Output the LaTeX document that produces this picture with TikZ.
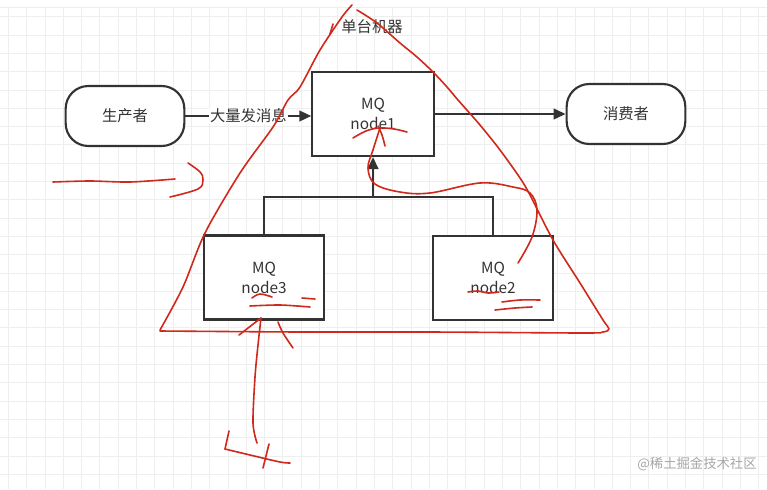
\documentclass[tikz,border=0pt]{standalone}
\usepackage{fontspec}
\setmainfont{Noto Sans CJK SC}
\usetikzlibrary{arrows.meta}
\definecolor{penred}{HTML}{D0281A}
\definecolor{ink}{HTML}{333333}
\definecolor{gridc}{HTML}{EEEEEE}
\begin{document}
\begin{tikzpicture}[x=0.75pt,y=-0.75pt,
  gridline/.style={draw=gridc,line width=0.5pt},
  box/.style={draw=ink,line width=1.6pt,fill=white,align=center,inner sep=0pt,
    text=ink,font=\fontsize{11.5}{15}\selectfont},
  stadium/.style={box,rounded corners=17pt,minimum width=89pt,minimum height=45pt},
  mqbox/.style={box,minimum width=90pt,minimum height=63pt},
  conn/.style={draw=ink,line width=1.6pt,-{Triangle[length=9pt,width=8pt]}},
  link/.style={draw=ink,line width=1.6pt},
  penline/.style={draw=penred,line width=1.2pt,line cap=round,line join=round}]
\useasboundingbox (0,0) rectangle (767,489);
\fill[white] (0,0) rectangle (767,489);
% grid
\foreach \i in {0,...,41} {\draw[gridline] ({8.3+18.3*\i},7) -- ({8.3+18.3*\i},489);}
\foreach \j in {0,...,26} {\draw[gridline] (0,{16.7+18.3*\j}) -- (767,{16.7+18.3*\j});}
\draw[gridline] (0,7) -- (767,7);
% nodes
\node[stadium] (prod) at (125,116) {生产者};
\node[stadium] (cons) at (626,114) {消费者};
\node[mqbox,minimum width=91pt] (n1) at (373,114) {MQ\\node1};
\node[mqbox] (n3) at (264,277.5) {MQ\\node3};
\node[mqbox] (n2) at (493,278) {MQ\\node2};
\node[text=ink,font=\fontsize{11.5}{13}\selectfont] (title) at (372,27) {单台机器};
\node[text=gray!70,font=\fontsize{10}{12}\selectfont] (wm) at (697,464) {@稀土掘金技术社区};
% connectors
\draw[conn] (prod.east) -- node[fill=white,inner sep=1pt,text=ink,font=\fontsize{11.5}{13}\selectfont] (lbl) {大量发消息} (prod.east -| n1.west);
\draw[conn] (n1.east |- cons.west) -- (cons.west);
\coordinate (j) at (373,197);
\draw[link] (n3.north) -- (n3.north |- j) -- (n2.north |- j) -- (n2.north);
\draw[conn] (j) -- (n1.south);
% red annotations
\draw[penline] plot[smooth,tension=0.5] coordinates {(352,5) (342,17) (320,50) (300,87) (288,100) (273,127) (240,173) (205,233) (183,287) (160,330)};
\draw[penline] (333,24) -- (330,34);
\draw[penline] plot[smooth,tension=0.5] coordinates {(357,10) (377,23) (400,43) (417,57) (433,72) (447,87) (458,100) (480,125) (500,150) (520,178) (530,195) (553,240) (580,283) (603,320) (609,329) (603,332) (583,333) (430,332) (300,332) (160,331)};
\draw[penline] plot[smooth,tension=0.6] coordinates {(380,128) (373,150) (368,168) (375,184) (400,192) (430,193) (480,183) (513,187) (530,193) (537,210) (532,237) (518,263)};
\draw[penline] plot[smooth,tension=0.6] coordinates {(353,138) (366,131) (379,128) (394,129) (407,132)};
\draw[penline] plot[smooth,tension=0.6] coordinates {(378,126) (382,135) (385,146)};
% left stroke
\draw[penline] plot[smooth,tension=0.5] coordinates {(53,182) (90,181) (130,182) (175,179)};
\draw[penline] plot[smooth,tension=0.6] coordinates {(188,163) (200,172) (203,180) (198,189) (170,197)};
% node3 marks
\draw[penline] plot[smooth,tension=0.6] coordinates {(252,298) (260,294) (272,297)};
\draw[penline] plot[smooth,tension=0.5] coordinates {(250,306) (280,305) (310,307)};
\draw[penline] (302,298) -- (315,299);
% node2 marks
\draw[penline] plot[smooth,tension=0.6] coordinates {(468,292) (478,291) (488,293) (499,292)};
\draw[penline] plot[smooth,tension=0.5] coordinates {(502,302) (520,300) (540,300)};
\draw[penline] plot[smooth,tension=0.5] coordinates {(495,310) (515,308) (532,307)};
% below node3
\draw[penline] (239,335) -- (261,318);
\draw[penline] plot[smooth,tension=0.6] coordinates {(278,322) (283,333) (293,348)};
\draw[penline] plot[smooth,tension=0.5] coordinates {(261,318) (258,345) (255,377) (253,423) (257,443)};
\draw[penline] (229,431) -- (225,449);
\draw[penline] plot[smooth,tension=0.5] coordinates {(225,449) (250,455) (280,462) (290,463)};
\draw[penline] (269,444) -- (263,468);
\end{tikzpicture}
\end{document}
